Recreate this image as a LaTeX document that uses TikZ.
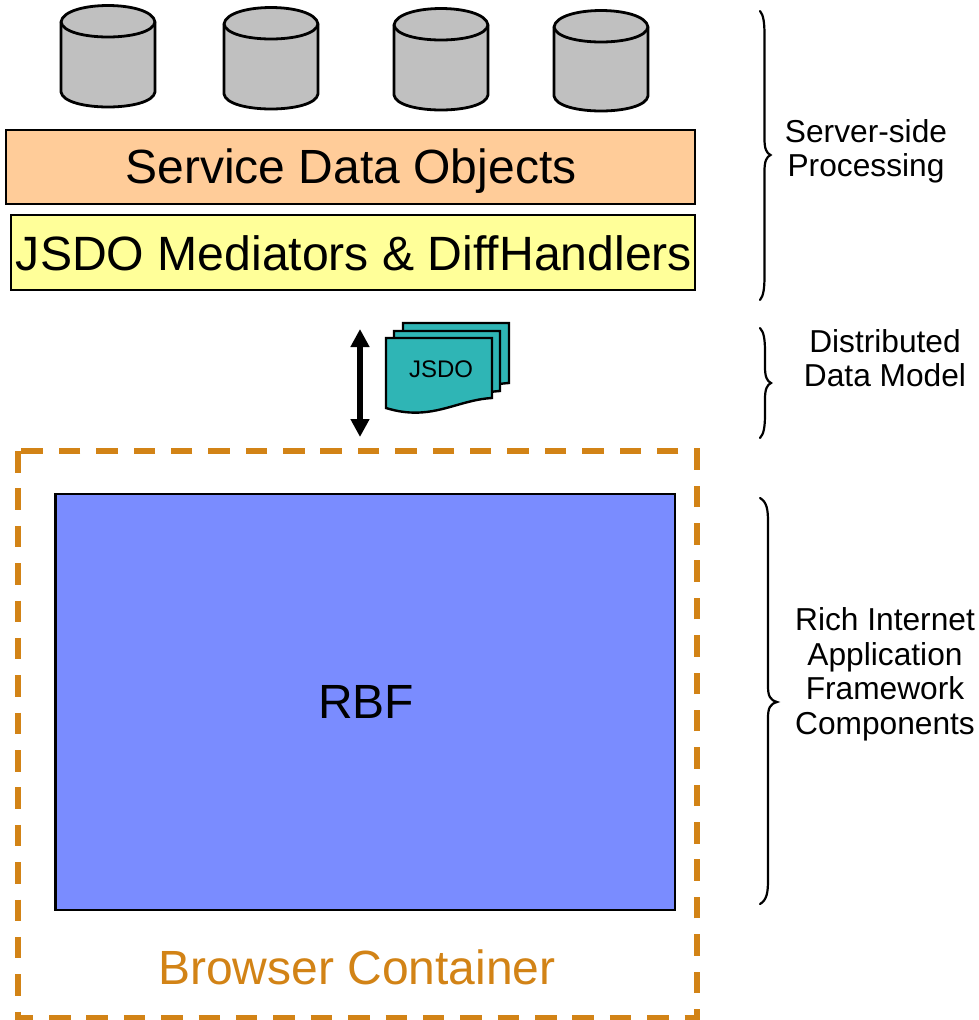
\documentclass[tikz,border=0pt]{standalone}
\usepackage{fontspec}
\setmainfont{Liberation Sans}
\usetikzlibrary{arrows.meta}
\definecolor{dbgray}{HTML}{C0C0C0}
\definecolor{sdoorange}{HTML}{FFCC99}
\definecolor{jsdoyellow}{HTML}{FFFF99}
\definecolor{docteal}{HTML}{2FB5B5}
\definecolor{rbfblue}{HTML}{7A8CFF}
\definecolor{browserorange}{HTML}{D28316}
\newcommand{\fsz}[1]{\fontsize{#1pt}{#1pt}\selectfont}
\tikzset{
  x=1pt,y=-1pt,
  dbshape/.style={draw=black,line width=2.8pt,fill=dbgray},
  layerbox/.style={draw=black,line width=2.4pt,inner sep=0pt,outer sep=0pt,anchor=north west},
  pagedoc/.style={draw=black,line width=2.4pt,fill=docteal,line join=miter},
  bracket/.style={draw=black,line width=2.2pt,line cap=round},
  sidetext/.style={align=center,font=\fontsize{31.7pt}{34.5pt}\selectfont,inner sep=0pt},
  dataarrow/.style={line width=5.4pt,{Triangle[width=18pt,length=18pt]}-{Triangle[width=18pt,length=18pt]}},
}
\newcommand{\dbcyl}[3]{% left x, top y, side length
  \draw[dbshape] (#1,#2+17) -- (#1,#2+17+#3) .. controls (#1+3,#2+37+#3) and (#1+91,#2+37+#3) .. (#1+94,#2+17+#3)
     -- (#1+94,#2+17) .. controls (#1+91,#2-5) and (#1+3,#2-5) .. (#1,#2+17) -- cycle;
  \draw[dbshape,fill=none] (#1,#2+17) .. controls (#1+3,#2+37) and (#1+91,#2+37) .. (#1+94,#2+17);
}
\newcommand{\docpage}[2]{% left x, top y
  \draw[pagedoc] (#1,#2) -- (#1+106,#2) -- (#1+106,#2+60)
    .. controls (#1+70,#2+62) and (#1+45,#2+84) .. (#1,#2+70) -- cycle;
}
\newcommand{\bracegl}[6]{% x, top y, tip y, bottom y, line offset, tip offset
  \draw[bracket] (#1,#2) .. controls (#1+#5-1,#2+4) and (#1+#5,#2+12) .. (#1+#5,#2+24)
    -- (#1+#5,#3-16) .. controls (#1+#5,#3-6) and (#1+#5+2,#3-2) .. (#1+#6,#3)
    .. controls (#1+#5+2,#3+2) and (#1+#5,#3+6) .. (#1+#5,#3+16)
    -- (#1+#5,#4-24) .. controls (#1+#5,#4-12) and (#1+#5-1,#4-4) .. (#1,#4);
}
\begin{document}
\begin{tikzpicture}
\useasboundingbox (0,0) rectangle (978,1020);
\dbcyl{61}{5}{70}
\dbcyl{224}{7}{70}
\dbcyl{394}{8}{70}
\dbcyl{554}{10}{69}
\node[layerbox,fill=sdoorange,minimum width=689pt,minimum height=74pt] (sdo) at (6,130) {};
\node at (351,171.5) (sdotext) {\fsz{48}Service Data Objects};
\node[layerbox,fill=jsdoyellow,minimum width=684pt,minimum height=75pt] (med) at (11,215) {};
\node at (354,253) (medtext) {\fsz{48.15}JSDO Mediators \& DiffHandlers};
\docpage{403}{323}
\docpage{394}{331}
\docpage{386}{338}
\node (jsdo) at (441,369) {\fsz{24}JSDO};
\coordinate (arrtop) at (360,329);
\coordinate (arrbot) at (360,437);
\draw[dataarrow] (arrtop) -- (arrbot);
\coordinate (bnw) at (18,451);
\coordinate (bsw) at (18,1018);
\coordinate (bse) at (697,1018);
\coordinate (bne) at (697,451);
\draw[draw=browserorange,line width=5.5pt,dash pattern=on 21.5pt off 15.88pt] (bnw) -- (bsw) -- (bse) -- (bne) -- cycle;
\node[layerbox,line width=2.8pt,fill=rbfblue,minimum width=619.5pt,minimum height=416pt] (rbf) at (55.5,494) {};
\node (rbftext) at (366,702) {\fsz{48}RBF};
\node[text=browserorange] (bc) at (357,967) {\fsz{48}Browser Container};
\bracegl{760}{11}{155}{300}{4.5}{10.5}
\bracegl{760}{328}{383}{438}{5}{11}
\bracegl{760}{498}{702}{904}{8}{17}
\node[sidetext] (t1) at (866,151.5) {Server-side\\Processing};
\node[sidetext] (t2) at (885,358) {Distributed\\Data Model};
\node[sidetext] (t3) at (885,674.5) {Rich Internet\\Application\\Framework\\Components};
\end{tikzpicture}
\end{document}
